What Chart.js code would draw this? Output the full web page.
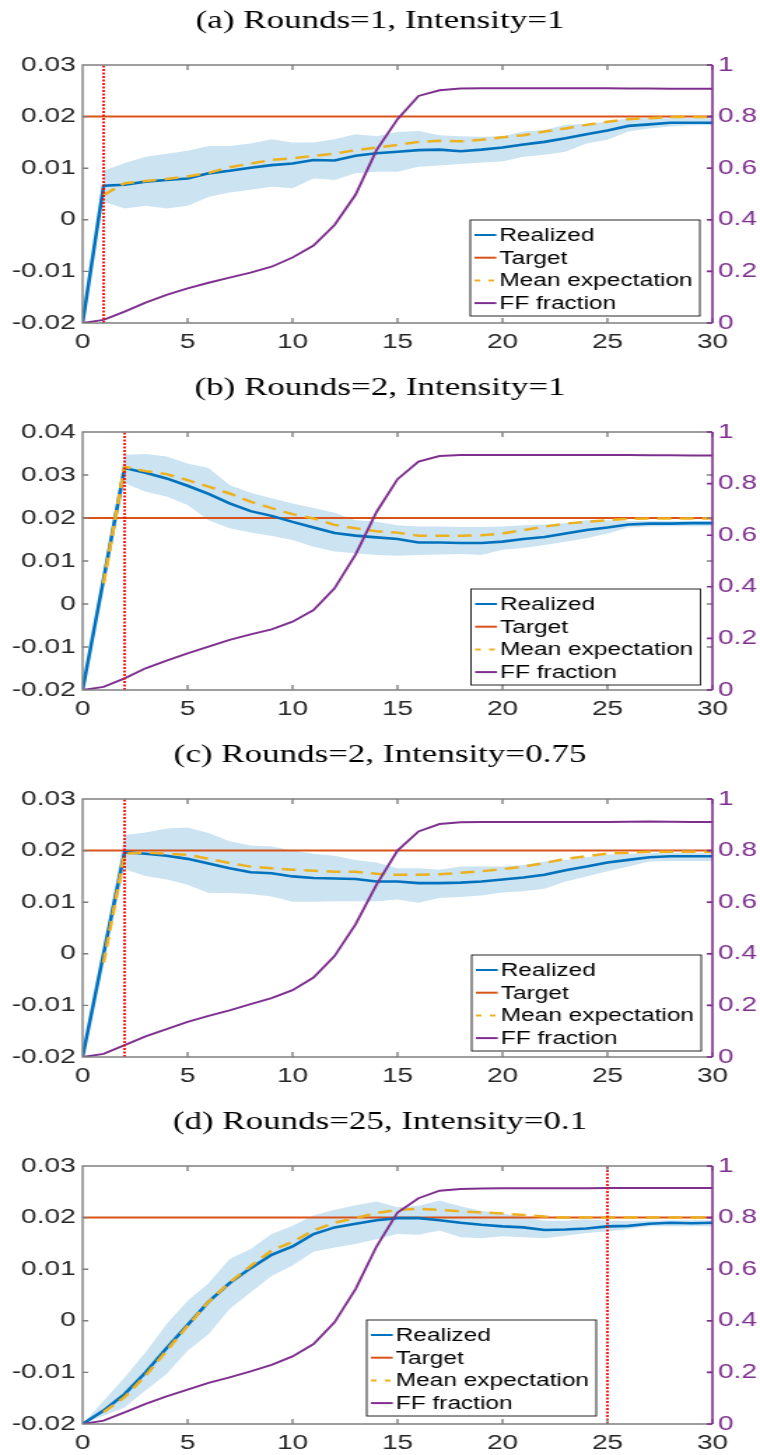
<!DOCTYPE html>
<html>
<head>
<meta charset="utf-8">
<script src="https://cdn.jsdelivr.net/npm/chart.js@4.4.1/dist/chart.umd.min.js"></script>
<style>
  html, body { margin: 0; padding: 0; background: #fff; overflow: hidden; }
  #page { position: relative; width: 760px; height: 1455px; overflow: hidden; }
  canvas { position: absolute; left: 0; }
</style>
</head>
<body>
<div id="page">
  <!-- drawn narrow then stretched sideways, like the original figure -->
  <canvas id="c0" width="543" height="367" style="top:0px;width:760px;height:367px"></canvas>
  <canvas id="c1" width="543" height="367" style="top:367px;width:760px;height:367px"></canvas>
  <canvas id="c2" width="543" height="367" style="top:734px;width:760px;height:367px"></canvas>
  <canvas id="c3" width="543" height="367" style="top:1101px;width:760px;height:367px"></canvas>
</div>
<script>
// ---- data ----
const rounds = [0,1,2,3,4,5,6,7,8,9,10,11,12,13,14,15,16,17,18,19,20,21,22,23,24,25,26,27,28,29,30];
const titles = ['(a) Rounds=1, Intensity=1', '(b) Rounds=2, Intensity=1',
                '(c) Rounds=2, Intensity=0.75', '(d) Rounds=25, Intensity=0.1'];
const shockRound = [1, 2, 2, 25];
const leftMin = -0.02;
const leftMax = [0.03, 0.04, 0.03, 0.03];
const targetRate = 0.02;
const legendLabels = ['Realized', 'Target', 'Mean expectation', 'FF fraction'];

// (a)
const realizedA = [-0.02, 0.0066, 0.0068, 0.0074, 0.0077, 0.0080, 0.0090, 0.0095, 0.0101, 0.0106, 0.0109, 0.0116, 0.0115, 0.0124, 0.0129, 0.0132, 0.0135, 0.0136, 0.0133, 0.0136, 0.0140, 0.0146, 0.0151, 0.0158, 0.0166, 0.0173, 0.0182, 0.0185, 0.0188, 0.0188, 0.0188];
const expectA = [null, 0.0048, 0.0071, 0.0075, 0.0079, 0.0084, 0.0091, 0.0102, 0.0109, 0.0116, 0.0119, 0.0124, 0.0128, 0.0135, 0.0140, 0.0145, 0.0151, 0.0153, 0.0152, 0.0155, 0.0160, 0.0164, 0.0171, 0.0177, 0.0184, 0.0190, 0.0195, 0.0197, 0.0199, 0.0199, 0.0199];
const upperA = [null, 0.0095, 0.0110, 0.0122, 0.0128, 0.0134, 0.0143, 0.0143, 0.0148, 0.0156, 0.0150, 0.0150, 0.0156, 0.0166, 0.0162, 0.0170, 0.0172, 0.0164, 0.0162, 0.0161, 0.0162, 0.0171, 0.0174, 0.0184, 0.0186, 0.0190, 0.0197, 0.0197, 0.0197, 0.0197, 0.0197];
const lowerA = [null, 0.0035, 0.0022, 0.0027, 0.0022, 0.0027, 0.0044, 0.0053, 0.0058, 0.0064, 0.0061, 0.0080, 0.0077, 0.0090, 0.0093, 0.0093, 0.0103, 0.0105, 0.0108, 0.0111, 0.0113, 0.0122, 0.0126, 0.0132, 0.0148, 0.0155, 0.0171, 0.0177, 0.0181, 0.0183, 0.0183];
const ffA = [0, 0.012, 0.044, 0.079, 0.109, 0.134, 0.156, 0.176, 0.195, 0.218, 0.254, 0.300, 0.380, 0.497, 0.670, 0.790, 0.880, 0.902, 0.909, 0.910, 0.910, 0.910, 0.910, 0.910, 0.910, 0.910, 0.909, 0.909, 0.908, 0.908, 0.908];

// (b)
const realizedB = [-0.02, 0.0058, 0.0316, 0.0305, 0.0292, 0.0275, 0.0256, 0.0234, 0.0216, 0.0205, 0.0191, 0.0178, 0.0165, 0.0159, 0.0155, 0.0151, 0.0143, 0.0143, 0.0142, 0.0142, 0.0145, 0.0151, 0.0156, 0.0164, 0.0172, 0.0178, 0.0185, 0.0187, 0.0187, 0.0188, 0.0188];
const expectB = [null, 0.0048, 0.0319, 0.0309, 0.0302, 0.0288, 0.0273, 0.0257, 0.0238, 0.0223, 0.0209, 0.0199, 0.0184, 0.0176, 0.0169, 0.0166, 0.0159, 0.0159, 0.0159, 0.0160, 0.0164, 0.0172, 0.0180, 0.0187, 0.0191, 0.0195, 0.0198, 0.0199, 0.0199, 0.0199, 0.0199];
const upperB = [null, 0.0075, 0.0347, 0.0349, 0.0343, 0.0327, 0.0316, 0.0277, 0.0259, 0.0246, 0.0234, 0.0223, 0.0212, 0.0195, 0.0191, 0.0183, 0.0180, 0.0180, 0.0179, 0.0179, 0.0180, 0.0183, 0.0185, 0.0188, 0.0195, 0.0195, 0.0193, 0.0193, 0.0193, 0.0193, 0.0193];
const lowerB = [null, 0.0040, 0.0281, 0.0261, 0.0250, 0.0230, 0.0195, 0.0176, 0.0166, 0.0158, 0.0149, 0.0133, 0.0122, 0.0118, 0.0114, 0.0112, 0.0114, 0.0115, 0.0116, 0.0114, 0.0126, 0.0130, 0.0137, 0.0145, 0.0153, 0.0164, 0.0178, 0.0180, 0.0181, 0.0181, 0.0181];
const ffB = [0, 0.012, 0.045, 0.084, 0.114, 0.142, 0.168, 0.194, 0.216, 0.235, 0.265, 0.310, 0.394, 0.525, 0.690, 0.817, 0.885, 0.907, 0.911, 0.911, 0.911, 0.911, 0.911, 0.911, 0.911, 0.911, 0.911, 0.910, 0.910, 0.909, 0.909];

// (c)
const realizedC = [-0.02, 0.0000, 0.0197, 0.0194, 0.0190, 0.0184, 0.0175, 0.0166, 0.0158, 0.0156, 0.0150, 0.0147, 0.0146, 0.0145, 0.0140, 0.0140, 0.0137, 0.0137, 0.0138, 0.0140, 0.0144, 0.0148, 0.0153, 0.0162, 0.0169, 0.0177, 0.0182, 0.0187, 0.0189, 0.0189, 0.0189];
const expectC = [null, -0.0017, 0.0194, 0.0196, 0.0194, 0.0192, 0.0184, 0.0176, 0.0169, 0.0166, 0.0163, 0.0161, 0.0159, 0.0159, 0.0155, 0.0153, 0.0153, 0.0154, 0.0157, 0.0160, 0.0164, 0.0169, 0.0176, 0.0184, 0.0189, 0.0194, 0.0196, 0.0198, 0.0198, 0.0198, 0.0198];
const upperC = [null, 0.0012, 0.0230, 0.0235, 0.0243, 0.0245, 0.0234, 0.0218, 0.0210, 0.0208, 0.0200, 0.0194, 0.0190, 0.0182, 0.0177, 0.0166, 0.0166, 0.0163, 0.0169, 0.0169, 0.0169, 0.0172, 0.0179, 0.0182, 0.0187, 0.0192, 0.0194, 0.0195, 0.0196, 0.0196, 0.0196];
const lowerC = [null, -0.0012, 0.0164, 0.0151, 0.0144, 0.0134, 0.0118, 0.0118, 0.0116, 0.0111, 0.0101, 0.0101, 0.0102, 0.0102, 0.0102, 0.0105, 0.0099, 0.0108, 0.0110, 0.0113, 0.0119, 0.0121, 0.0126, 0.0140, 0.0150, 0.0160, 0.0169, 0.0179, 0.0180, 0.0180, 0.0180];
const ffC = [0, 0.012, 0.046, 0.080, 0.108, 0.136, 0.159, 0.181, 0.205, 0.228, 0.259, 0.308, 0.391, 0.514, 0.668, 0.800, 0.874, 0.903, 0.910, 0.911, 0.911, 0.911, 0.911, 0.911, 0.911, 0.911, 0.912, 0.913, 0.912, 0.911, 0.911];

// (d)
const realizedD = [-0.02, -0.0174, -0.0142, -0.0100, -0.0053, -0.0008, 0.0037, 0.0073, 0.0102, 0.0128, 0.0144, 0.0168, 0.0181, 0.0188, 0.0195, 0.0199, 0.0199, 0.0195, 0.0190, 0.0186, 0.0183, 0.0181, 0.0176, 0.0177, 0.0179, 0.0183, 0.0184, 0.0188, 0.0190, 0.0189, 0.0190];
const expectD = [null, -0.0177, -0.0148, -0.0106, -0.0058, -0.0010, 0.0037, 0.0074, 0.0106, 0.0136, 0.0153, 0.0175, 0.0190, 0.0199, 0.0209, 0.0215, 0.0217, 0.0215, 0.0212, 0.0210, 0.0208, 0.0205, 0.0202, 0.0200, 0.0200, 0.0200, 0.0200, 0.0200, 0.0200, 0.0200, 0.0200];
const upperD = [-0.0200, -0.0155, -0.0110, -0.0061, -0.0006, 0.0039, 0.0073, 0.0120, 0.0139, 0.0168, 0.0184, 0.0204, 0.0215, 0.0224, 0.0231, 0.0220, 0.0223, 0.0233, 0.0222, 0.0213, 0.0208, 0.0201, 0.0194, 0.0194, 0.0197, 0.0194, 0.0194, 0.0194, 0.0195, 0.0195, 0.0195];
const lowerD = [-0.0200, -0.0184, -0.0168, -0.0135, -0.0103, -0.0058, -0.0026, 0.0023, 0.0055, 0.0087, 0.0107, 0.0134, 0.0142, 0.0149, 0.0158, 0.0168, 0.0167, 0.0175, 0.0162, 0.0160, 0.0164, 0.0162, 0.0160, 0.0165, 0.0170, 0.0173, 0.0178, 0.0183, 0.0183, 0.0183, 0.0183];
const ffD = [0, 0.013, 0.045, 0.078, 0.107, 0.133, 0.159, 0.181, 0.204, 0.229, 0.262, 0.310, 0.394, 0.523, 0.688, 0.820, 0.875, 0.904, 0.911, 0.913, 0.914, 0.914, 0.914, 0.914, 0.914, 0.915, 0.915, 0.915, 0.915, 0.915, 0.915];

const panels = [
  {realized: realizedA, expect: expectA, upper: upperA, lower: lowerA, ff: ffA, legendRight: 9, legendBottom: 7},
  {realized: realizedB, expect: expectB, upper: upperB, lower: lowerB, ff: ffB, legendRight: 8.5, legendBottom: 5},
  {realized: realizedC, expect: expectC, upper: upperC, lower: lowerC, ff: ffC, legendRight: 8, legendBottom: 6},
  {realized: realizedD, expect: expectD, upper: upperD, lower: lowerD, ff: ffD, legendRight: 83, legendBottom: 8}
];

const col = {
  realized: '#0072BD', target: '#D95319', expect: '#EDB120', ff: '#7E2F8E',
  band: '#CCE3F2', shock: '#FF0000', axis: '#7f7f7f', text: '#262626'
};
const tickFont = {family: 'Liberation Sans', size: 20};
const fmt = v => String(Math.round(v * 100) / 100);

// matlab style box with inward ticks
const axesBox = {
  id: 'axesBox',
  afterDatasetsDraw(chart) {
    const {ctx, chartArea: a, scales} = chart;
    ctx.save();
    ctx.strokeStyle = col.axis;
    ctx.lineWidth = 1.4;
    ctx.beginPath();
    ctx.moveTo(a.right, a.top); ctx.lineTo(a.left, a.top);
    ctx.lineTo(a.left, a.bottom); ctx.lineTo(a.right, a.bottom);
    scales.x.ticks.forEach(t => {
      const px = scales.x.getPixelForValue(t.value);
      ctx.moveTo(px, a.bottom); ctx.lineTo(px, a.bottom - 5);
      ctx.moveTo(px, a.top); ctx.lineTo(px, a.top + 5);
    });
    scales.y.ticks.forEach(t => {
      const py = scales.y.getPixelForValue(t.value);
      ctx.moveTo(a.left, py); ctx.lineTo(a.left + 4, py);
      ctx.moveTo(a.right, py); ctx.lineTo(a.right - 4, py);
    });
    ctx.stroke();
    ctx.strokeStyle = col.ff;
    ctx.lineWidth = 1.6;
    ctx.beginPath();
    ctx.moveTo(a.right, a.top); ctx.lineTo(a.right, a.bottom);
    scales.y2.ticks.forEach(t => {
      const py = scales.y2.getPixelForValue(t.value);
      ctx.moveTo(a.right, py); ctx.lineTo(a.right - 4, py);
    });
    ctx.stroke();
    ctx.restore();
  }
};

// boxed legend inside the plot
const boxLegend = {
  id: 'boxLegend',
  afterDraw(chart, args, o) {
    const {ctx, chartArea: a} = chart;
    const w = 164, h = 96;
    const x0 = a.right - o.right - w;
    const y0 = a.bottom - o.bottom - h;
    ctx.save();
    ctx.fillStyle = '#fff';
    ctx.fillRect(x0, y0, w, h);
    ctx.strokeStyle = col.text;
    ctx.lineWidth = 1;
    ctx.strokeRect(x0, y0, w, h);
    ctx.font = '17.5px "Liberation Sans"';
    ctx.textBaseline = 'middle';
    legendLabels.forEach((lab, k) => {
      const ds = chart.data.datasets.find(d => d.label === lab);
      const yy = y0 + 15 + k * 22.7;
      ctx.beginPath();
      ctx.setLineDash(ds.borderDash ? [4, 6] : []);
      ctx.strokeStyle = ds.borderColor;
      ctx.lineWidth = 2;
      ctx.moveTo(x0 + 3, yy); ctx.lineTo(x0 + 18.6, yy);
      ctx.stroke();
      ctx.setLineDash([]);
      ctx.fillStyle = '#000';
      ctx.fillText(lab, x0 + 20.7, yy + 1);
    });
    ctx.restore();
  }
};

panels.forEach((p, i) => {
  const pts = vals => rounds.map((r, k) => ({x: r, y: vals[k]}));
  new Chart(document.getElementById('c' + i), {
    type: 'line',
    data: {
      datasets: [
        {label: 'shock', data: [{x: shockRound[i], y: leftMin}, {x: shockRound[i], y: leftMax[i]}],
         borderColor: col.shock, borderWidth: 1.8, borderDash: [2, 1.5], order: 0},
        {label: legendLabels[3], data: pts(p.ff), borderColor: col.ff, borderWidth: 1.9, yAxisID: 'y2', order: 1},
        {label: legendLabels[2], data: pts(p.expect), borderColor: col.expect, borderWidth: 2.5, borderDash: [10, 6], order: 2},
        {label: legendLabels[0], data: pts(p.realized), borderColor: col.realized, borderWidth: 2.6, order: 3},
        {label: legendLabels[1], data: rounds.map(r => ({x: r, y: targetRate})), borderColor: col.target, borderWidth: 2, order: 4},
        {label: 'lower', data: pts(p.lower), borderColor: 'rgba(0,0,0,0)', backgroundColor: col.band, fill: false, order: 6},
        {label: 'upper', data: pts(p.upper), borderColor: 'rgba(0,0,0,0)', backgroundColor: col.band, fill: '-1', order: 5}
      ]
    },
    options: {
      responsive: false,
      animation: false,
      events: [],
      elements: {point: {radius: 0}, line: {tension: 0, borderCapStyle: 'butt'}},
      layout: {padding: 0},
      plugins: {
        legend: {display: false},
        tooltip: {enabled: false},
        title: {
          display: true, text: titles[i], color: '#000',
          font: {family: 'Liberation Serif', size: 25, weight: 'normal'},
          padding: {top: 6, bottom: 29}
        },
        boxLegend: {right: p.legendRight, bottom: p.legendBottom}
      },
      scales: {
        x: {
          type: 'linear', min: 0, max: 30,
          grid: {display: false, drawTicks: false}, border: {display: false},
          ticks: {stepSize: 5, padding: 7, color: col.text, font: tickFont, maxRotation: 0},
          afterFit: s => { s.height = 44; }
        },
        y: {
          type: 'linear', position: 'left', min: leftMin, max: leftMax[i],
          grid: {display: false, drawTicks: false}, border: {display: false},
          ticks: {stepSize: 0.01, padding: 5, color: col.text, font: tickFont, callback: v => fmt(v)},
          afterFit: s => { s.width = 59; }
        },
        y2: {
          type: 'linear', position: 'right', min: 0, max: 1,
          grid: {display: false, drawTicks: false}, border: {display: false},
          ticks: {stepSize: 0.2, padding: 4, color: col.ff, font: tickFont, callback: v => fmt(v)},
          afterFit: s => { s.width = 34; }
        }
      }
    },
    plugins: [axesBox, boxLegend]
  });
});
</script>
</body>
</html>
